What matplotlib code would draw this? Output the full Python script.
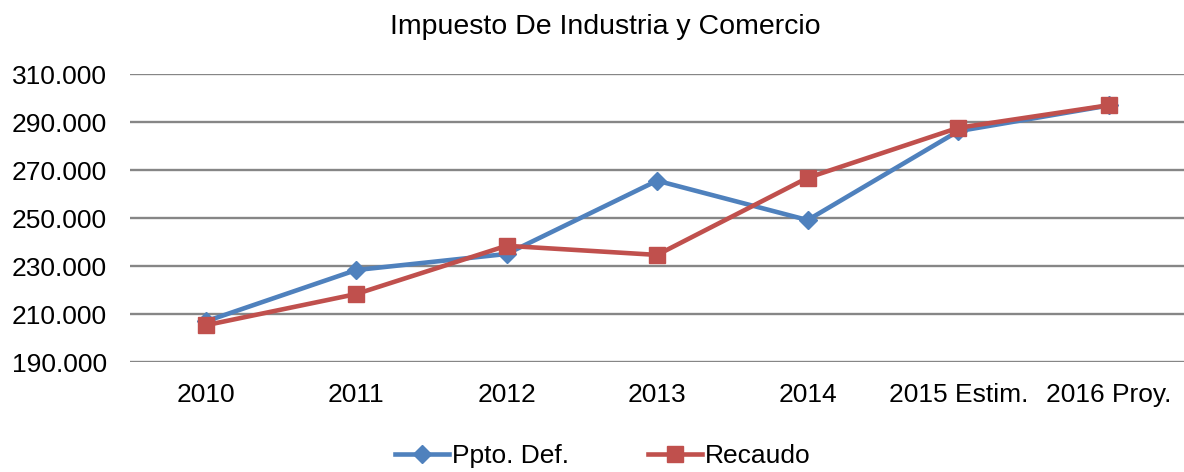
import matplotlib.pyplot as plt

plt.rcParams['font.family'] = ['Liberation Sans', 'DejaVu Sans']

# datos
anios = ['2010', '2011', '2012', '2013', '2014', '2015 Estim.', '2016 Proy.']
ppto_def = [207000, 228400, 235100, 265600, 249200, 286200, 296900]
recaudo = [205400, 218400, 238500, 234700, 266800, 287600, 297000]
y_ticks = [190000, 210000, 230000, 250000, 270000, 290000, 310000]

azul = '#4F81BD'
rojo = '#C0504D'

fig = plt.figure(figsize=(11.84, 4.72), dpi=100)
ax = fig.add_axes([0.110, 0.2324, 0.890, 0.6108])

x = range(len(anios))
ax.plot(x, ppto_def, color=azul, lw=3.3, marker='D', markersize=9, label='Ppto. Def.')
ax.plot(x, recaudo, color=rojo, lw=3.3, marker='s', markersize=11, label='Recaudo')

ax.set_ylim(190000, 310000)
ax.set_xlim(-0.5, len(anios) - 0.5)
ax.set_yticks(y_ticks)
ax.set_yticklabels([f'{v:,}'.replace(',', '.') for v in y_ticks])
ax.set_xticks(list(x))
ax.set_xticklabels(anios)

ax.grid(axis='y', color='#868686', lw=1.7)
ax.set_axisbelow(True)
for s in ax.spines.values():
    s.set_visible(False)
ax.tick_params(axis='both', length=0, labelsize=19)
ax.tick_params(axis='y', pad=17)
ax.tick_params(axis='x', pad=15)

fig.text(605 / 1184, 1 - 27 / 472, 'Impuesto De Industria y Comercio', ha='center', va='center', fontsize=20.5)

# leyenda abajo (en el original queda casi al borde)
fig.legend(loc='center', bbox_to_anchor=(603 / 1184, 1 - 456 / 472), ncol=2, frameon=False,
           fontsize=19, handlelength=2.05, columnspacing=3.0, handletextpad=0.1,
           borderpad=0.1)

fig.savefig('out.png', dpi=100)
